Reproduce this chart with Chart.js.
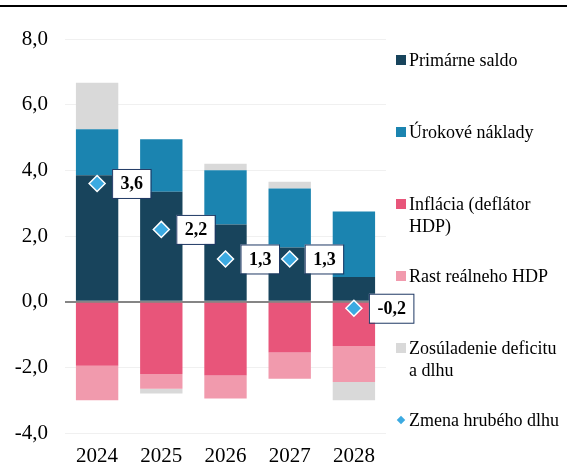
<!DOCTYPE html>
<html>
<head>
<meta charset="utf-8">
<script src="https://cdn.jsdelivr.net/npm/chart.js@4/dist/chart.umd.min.js"></script>
<style>
  html, body { margin: 0; padding: 0; background: #fff; }
  #wrap { position: relative; width: 567px; height: 468px; overflow: hidden; }
  #topline { position: absolute; left: 0; top: 5px; width: 567px; height: 2px; background: #000; }
  #chart { position: absolute; left: 0; top: 0; }
  #legend { position: absolute; left: 396px; top: 49px; width: 171px;
            font-family: "Liberation Serif", "Times New Roman", serif; font-size: 18px; color: #000; }
  .item { position: absolute; left: 0; width: 171px; line-height: 22px; padding-left: 13px;
          box-sizing: border-box; white-space: pre; }
  .sw { position: absolute; left: 0; top: 6px; width: 10px; height: 10px; }
  .dia { position: absolute; left: 2px; top: 8px; width: 6px; height: 6px; transform: rotate(45deg); }
</style>
</head>
<body>
<div id="wrap">
  <div id="topline"></div>
  <canvas id="chart" width="567" height="468"></canvas>
  <div id="legend"></div>
</div>
<script>
const years = ['2024', '2025', '2026', '2027', '2028'];
const primarneSaldo = [3.85, 3.35, 2.35, 1.65, 0.75];
const urokoveNaklady = [1.4, 1.6, 1.65, 1.8, 2.0];
const inflacia = [-1.95, -2.2, -2.25, -1.55, -1.35];
const rastHdp = [-1.05, -0.45, -0.7, -0.8, -1.1];
const zosuladenie = [1.42, -0.15, 0.2, 0.2, -0.55];
const zmenaDlhu = [3.6, 2.2, 1.3, 1.3, -0.2];

const serif = '"Liberation Serif", "Times New Roman", serif';
const fmt = (v) => v.toFixed(1).replace('.', ',');

// white boxes with the debt change value next to each diamond
const valueBoxes = {
  id: 'valueBoxes',
  afterDatasetsDraw(chart) {
    const ctx = chart.ctx;
    const idx = chart.data.datasets.findIndex(d => d.type === 'line');
    const meta = chart.getDatasetMeta(idx);
    ctx.save();
    ctx.font = 'bold 18px ' + serif;
    ctx.textAlign = 'center';
    ctx.textBaseline = 'middle';
    meta.data.forEach((pt, i) => {
      const txt = fmt(zmenaDlhu[i]);
      const w = ctx.measureText(txt).width + 16;
      const h = 29;
      const x = pt.x + 15;
      const y = pt.y - h / 2;
      ctx.fillStyle = '#fff';
      ctx.fillRect(x, y, w, h);
      ctx.strokeStyle = '#1F3864';
      ctx.lineWidth = 1;
      ctx.strokeRect(x + 0.5, y + 0.5, w, h);
      ctx.fillStyle = '#000';
      ctx.fillText(txt, x + w / 2 + 0.5, y + h / 2 + 1);
    });
    ctx.restore();
  }
};

const bar = (label, data, color) => ({
  type: 'bar', label, data, backgroundColor: color, borderWidth: 0,
  barPercentage: 0.66, categoryPercentage: 1, order: 1
});

const chart = new Chart(document.getElementById('chart'), {
  data: {
    labels: years,
    datasets: [
      bar('Primárne saldo', primarneSaldo, '#18445C'),
      bar('Úrokové náklady', urokoveNaklady, '#1B84B0'),
      bar('Inflácia (deflátor\nHDP)', inflacia, '#E8557A'),
      bar('Rast reálneho HDP', rastHdp, '#F19AAD'),
      bar('Zosúladenie deficitu\na dlhu', zosuladenie, '#D9D9D9'),
      {
        type: 'line', label: 'Zmena hrubého dlhu', data: zmenaDlhu, stack: 'debt',
        showLine: false, pointStyle: 'rectRot', pointRadius: 8,
        backgroundColor: '#3CAAE1', borderColor: '#fff', borderWidth: 1.5, order: 0
      }
    ]
  },
  options: {
    responsive: false,
    animation: false,
    layout: { padding: { top: 39, right: 181, bottom: 0, left: 0 } },
    plugins: {
      legend: { display: false },
      tooltip: { enabled: false }
    },
    scales: {
      x: {
        stacked: true,
        afterFit: (scale) => { scale.height = 35; },
        grid: { display: false, drawTicks: false },
        border: { display: false },
        ticks: { color: '#000', padding: 11, maxRotation: 0, font: { family: serif, size: 21 } }
      },
      y: {
        stacked: true,
        min: -4,
        max: 8,
        afterFit: (scale) => { scale.width = 65; },
        border: { display: false },
        grid: {
          drawTicks: false,
          color: (c) => c.tick && c.tick.value === 0 ? '#858585' : '#F0F0F0',
          lineWidth: (c) => c.tick && c.tick.value === 0 ? 2 : 1
        },
        ticks: {
          stepSize: 2,
          color: '#000',
          padding: 17,
          font: { family: serif, size: 21 },
          callback: (value) => fmt(value)
        }
      }
    }
  },
  plugins: [valueBoxes]
});

// legend on the right, built from the datasets
const legend = document.getElementById('legend');
chart.data.datasets.forEach((ds, i) => {
  const item = document.createElement('div');
  item.className = 'item';
  item.style.top = (i * 72) + 'px';
  const mark = document.createElement('span');
  mark.className = ds.type === 'line' ? 'dia' : 'sw';
  mark.style.background = ds.backgroundColor;
  item.appendChild(mark);
  item.appendChild(document.createTextNode(ds.label));
  legend.appendChild(item);
});
</script>
</body>
</html>
